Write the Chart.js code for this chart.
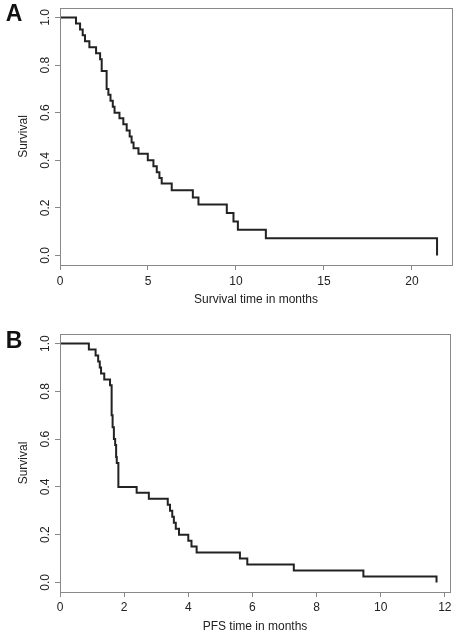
<!DOCTYPE html>
<html>
<head>
<meta charset="utf-8">
<script src="https://cdn.jsdelivr.net/npm/chart.js@4/dist/chart.umd.min.js"></script>
<style>
    body { margin: 0; background: #fff; }
    canvas { display: block; }
</style>
</head>
<body>
<canvas id="chartA" width="457" height="310"></canvas>
<canvas id="chartB" width="457" height="327"></canvas>
<script>
// Panel A - overall survival
const timesA = [0, 0.91, 1.14, 1.29, 1.42, 1.67, 2.05, 2.28, 2.37, 2.65, 2.75, 2.87, 3.0, 3.1, 3.38, 3.6, 3.79, 3.96, 4.07, 4.18, 4.46, 4.99, 5.31, 5.5, 5.65, 5.78, 6.35, 7.55, 7.87, 9.48, 9.86, 10.11, 11.7, 21.43];
const survA = [1.0, 0.975, 0.95, 0.925, 0.9, 0.875, 0.85, 0.825, 0.775, 0.7, 0.675, 0.65, 0.625, 0.6, 0.577, 0.552, 0.525, 0.5, 0.475, 0.451, 0.427, 0.4, 0.375, 0.35, 0.326, 0.302, 0.274, 0.244, 0.214, 0.179, 0.143, 0.108, 0.072, 0.0];
const xTicksA = [0, 5, 10, 15, 20];

// Panel B - progression free survival
const timesB = [0, 0.9, 1.11, 1.19, 1.24, 1.28, 1.38, 1.56, 1.61, 1.64, 1.68, 1.72, 1.75, 1.77, 1.82, 2.39, 2.77, 3.36, 3.43, 3.5, 3.55, 3.61, 3.71, 4.0, 4.1, 4.26, 5.61, 5.84, 7.29, 9.46, 11.74];
const survB = [1.0, 0.975, 0.95, 0.925, 0.9, 0.875, 0.85, 0.825, 0.7, 0.65, 0.6, 0.575, 0.525, 0.5, 0.4, 0.375, 0.35, 0.325, 0.3, 0.275, 0.25, 0.225, 0.2, 0.175, 0.15, 0.125, 0.1, 0.075, 0.05, 0.025, 0.0];
const xTicksB = [0, 2, 4, 6, 8, 10, 12];

const yTicks = [0, 0.2, 0.4, 0.6, 0.8, 1.0];
const yTickLabels = ['0.0', '0.2', '0.4', '0.6', '0.8', '1.0'];

const FONT = '"Liberation Sans", Arial, Helvetica, sans-serif';
const TEXT = '#222';
const AXIS = '#888';

// box, rotated y labels, panel letter
const rPlotPlugin = {
    id: 'rPlot',
    afterDraw(chart, args, opts) {
        const ctx = chart.ctx;
        const a = chart.chartArea;
        const y = chart.scales.y;
        ctx.save();
        ctx.strokeStyle = AXIS;
        ctx.lineWidth = 1;
        ctx.strokeRect(Math.round(a.left) + 0.5, Math.round(a.top) + 0.5,
            Math.round(a.right - a.left), Math.round(a.bottom - a.top));

        ctx.fillStyle = TEXT;
        ctx.font = '12px ' + FONT;
        ctx.textAlign = 'center';
        ctx.textBaseline = 'middle';
        yTicks.forEach((v, i) => {
            ctx.save();
            ctx.translate(46, y.getPixelForValue(v));
            ctx.rotate(-Math.PI / 2);
            ctx.fillText(yTickLabels[i], 0, 0);
            ctx.restore();
        });

        ctx.save();
        ctx.translate(23.5, (a.top + a.bottom) / 2);
        ctx.rotate(-Math.PI / 2);
        ctx.fillText('Survival', 0, 0);
        ctx.restore();

        ctx.font = 'bold 23px ' + FONT;
        ctx.fillStyle = '#111';
        ctx.fillText(opts.letter, 14, opts.letterY);
        ctx.restore();
    }
};

function makeKM(id, times, surv, xMax, xTicks, xTitle, pad, tickPad, letter, letterY) {
    const canvas = document.getElementById(id);
    const points = times.map((t, i) => ({ x: t, y: surv[i] }));

    return new Chart(canvas.getContext('2d'), {
        type: 'line',
        data: {
            datasets: [{
                data: points,
                stepped: 'before',
                borderColor: '#222',
                borderWidth: 2,
                pointRadius: 0,
                fill: false
            }]
        },
        options: {
            responsive: false,
            animation: false,
            layout: { padding: { left: 0, right: pad.right, top: pad.top, bottom: 0 } },
            plugins: {
                legend: { display: false },
                tooltip: { enabled: false },
                rPlot: { letter: letter, letterY: letterY }
            },
            scales: {
                x: {
                    type: 'linear',
                    min: 0,
                    max: xMax,
                    afterBuildTicks: (s) => { s.ticks = xTicks.map(v => ({ value: v })); },
                    afterFit: (s) => { s.height = pad.xHeight; },
                    border: { display: false },
                    grid: { drawOnChartArea: false, drawTicks: true, tickLength: 5, color: AXIS },
                    ticks: {
                        padding: tickPad,
                        maxRotation: 0,
                        autoSkip: false,
                        color: TEXT,
                        font: { family: FONT, size: 12 }
                    },
                    title: {
                        display: true,
                        text: xTitle,
                        color: TEXT,
                        font: { family: FONT, size: 12 },
                        padding: { top: 0, bottom: 3 }
                    }
                },
                y: {
                    type: 'linear',
                    min: -0.04,
                    max: 1.04,
                    afterBuildTicks: (s) => { s.ticks = yTicks.map(v => ({ value: v })); },
                    afterFit: (s) => { s.width = 60; },
                    border: { display: false },
                    grid: { drawOnChartArea: false, drawTicks: true, tickLength: 5, color: AXIS },
                    ticks: { display: false }
                }
            }
        },
        plugins: [rPlotPlugin]
    });
}

makeKM('chartA', timesA, survA, 22.28, xTicksA, 'Survival time in months',
    { right: 5, top: 8, xHeight: 45 }, 4, 'A', 15);
makeKM('chartB', timesB, survB, 12.16, xTicksB, 'PFS time in months',
    { right: 7, top: 24, xHeight: 45 }, 3, 'B', 32);
</script>
</body>
</html>
